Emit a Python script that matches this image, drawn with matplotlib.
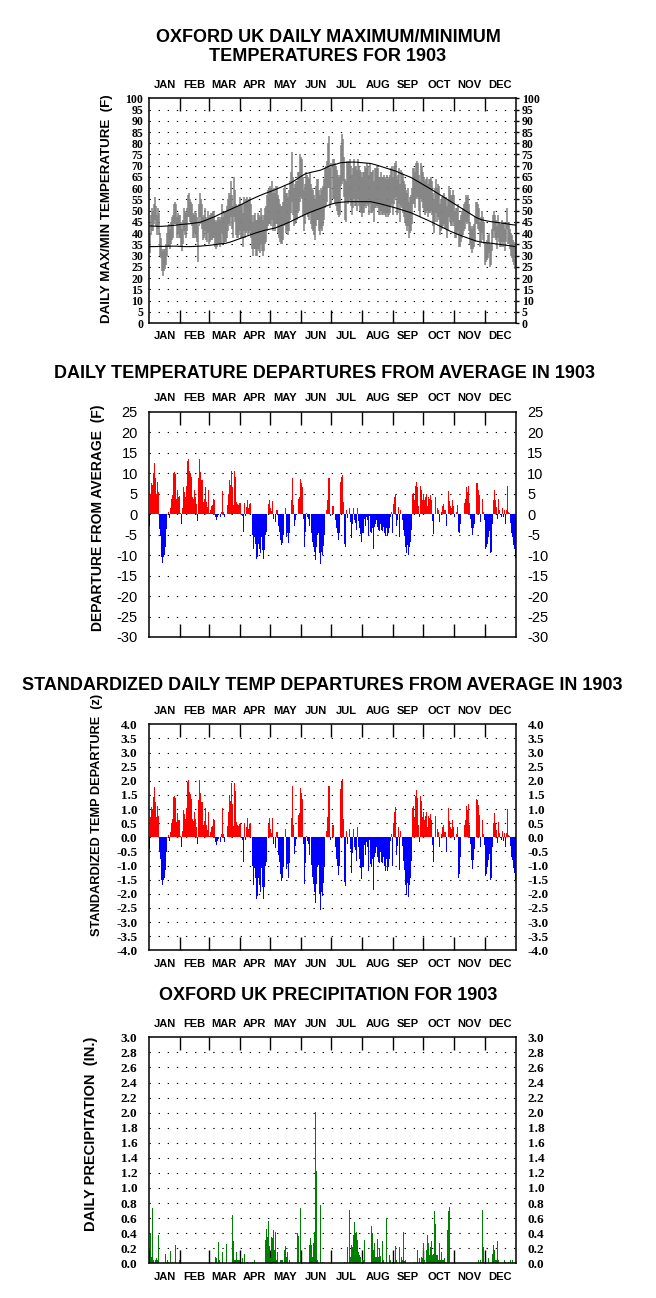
import numpy as np
import matplotlib
matplotlib.use('Agg')
import matplotlib.pyplot as plt

plt.rcParams['font.family'] = ['Liberation Sans', 'DejaVu Sans']

# --------------------------------------------------
# Data (Oxford UK, 1903), one value per day
# --------------------------------------------------
months = ['JAN', 'FEB', 'MAR', 'APR', 'MAY', 'JUN',
          'JUL', 'AUG', 'SEP', 'OCT', 'NOV', 'DEC']
month_len = [31, 28, 31, 30, 31, 30, 31, 31, 30, 31, 30, 31]

tmax = [
    40, 48, 51, 50, 53, 56, 52, 48, 51, 49, 40, 38, 33, 32, 33, 33, 35, 40, 43, 44, 42, 45, 47, 48, 53, 54, 53, 47, 49, 48, 48,
    45, 42, 46, 51, 50, 49, 51, 57, 58, 55, 54, 53, 49, 48, 50, 49, 47, 43, 53, 58, 55, 53, 47, 48, 51, 47, 46, 50,
    47, 48, 49, 49, 50, 50, 46, 45, 46, 47, 47, 46, 47, 53, 47, 49, 50, 50, 52, 55, 58, 57, 63, 57, 52, 65, 59, 53, 52, 52, 53,
    56, 53, 53, 49, 56, 53, 55, 56, 54, 55, 56, 53, 48, 45, 48, 49, 46, 46, 49, 48, 47, 51, 48, 46, 48, 51, 52, 57, 59, 60,
    61, 60, 63, 58, 60, 58, 61, 61, 57, 55, 53, 52, 52, 54, 60, 61, 58, 58, 56, 59, 63, 67, 76, 65, 60, 62, 63, 63, 67, 67, 75,
    74, 73, 65, 59, 62, 67, 66, 65, 64, 67, 62, 60, 59, 57, 55, 61, 64, 64, 59, 57, 60, 59, 61, 64, 69, 70, 72, 80, 83, 69,
    71, 73, 73, 71, 70, 68, 66, 65, 66, 79, 84, 82, 74, 64, 63, 72, 71, 72, 73, 70, 66, 69, 73, 70, 70, 68, 73, 70, 68, 67, 65,
    67, 67, 70, 69, 71, 70, 66, 71, 67, 67, 68, 63, 69, 69, 70, 69, 65, 65, 67, 65, 65, 66, 65, 64, 66, 64, 65, 66, 69, 70, 65,
    70, 71, 72, 64, 66, 69, 62, 68, 67, 66, 63, 62, 59, 58, 60, 54, 56, 57, 60, 69, 69, 67, 71, 72, 71, 66, 63, 71, 70, 67,
    65, 63, 64, 65, 62, 64, 64, 65, 63, 58, 55, 60, 64, 60, 62, 61, 53, 55, 56, 57, 58, 56, 56, 52, 55, 61, 59, 57, 57, 59, 57,
    50, 51, 51, 53, 46, 46, 48, 50, 51, 53, 54, 57, 56, 57, 53, 45, 43, 42, 43, 44, 47, 54, 54, 53, 51, 45, 47, 50, 47, 45,
    36, 36, 37, 39, 40, 35, 35, 42, 48, 50, 48, 46, 43, 48, 45, 44, 44, 46, 44, 45, 42, 45, 51, 45, 45, 42, 40, 39, 37, 36, 34,
]
tmin = [
    31, 39, 41, 41, 44, 46, 43, 39, 42, 39, 30, 29, 23, 21, 23, 24, 26, 30, 34, 34, 33, 35, 37, 38, 44, 44, 44, 38, 40, 38, 38,
    34, 32, 35, 41, 39, 38, 41, 47, 47, 45, 44, 43, 38, 38, 40, 38, 36, 27, 43, 47, 44, 42, 37, 38, 41, 37, 36, 40,
    35, 36, 37, 37, 38, 38, 34, 33, 34, 35, 35, 34, 35, 40, 35, 35, 36, 36, 38, 41, 44, 43, 47, 42, 38, 47, 45, 39, 38, 38, 39,
    41, 38, 38, 34, 41, 38, 40, 41, 39, 40, 41, 38, 33, 30, 33, 33, 30, 30, 33, 32, 31, 35, 32, 30, 32, 35, 36, 41, 43, 44,
    44, 43, 46, 41, 43, 41, 44, 44, 40, 38, 36, 35, 35, 37, 43, 44, 40, 41, 39, 41, 46, 49, 54, 48, 43, 44, 45, 46, 49, 50, 54,
    56, 55, 47, 41, 44, 49, 48, 47, 46, 49, 44, 42, 41, 39, 37, 43, 46, 46, 41, 39, 42, 41, 43, 46, 51, 52, 54, 60, 60, 51,
    53, 55, 55, 53, 52, 50, 48, 47, 48, 61, 62, 63, 56, 46, 45, 54, 53, 54, 55, 52, 48, 51, 55, 52, 52, 50, 55, 52, 50, 49, 47,
    49, 49, 52, 51, 53, 52, 48, 53, 49, 49, 50, 45, 51, 51, 52, 51, 48, 48, 50, 48, 48, 49, 48, 47, 49, 47, 48, 49, 52, 53, 48,
    53, 55, 56, 48, 49, 53, 45, 52, 51, 49, 47, 45, 43, 41, 43, 38, 40, 41, 44, 53, 53, 51, 55, 56, 55, 50, 47, 55, 54, 51,
    50, 48, 49, 50, 47, 49, 49, 50, 48, 43, 40, 45, 49, 45, 47, 46, 39, 41, 42, 43, 44, 42, 42, 38, 41, 47, 45, 43, 43, 45, 43,
    38, 38, 39, 41, 34, 34, 36, 38, 39, 41, 42, 45, 44, 45, 41, 35, 33, 31, 33, 34, 36, 44, 44, 42, 41, 34, 36, 40, 37, 35,
    26, 27, 28, 29, 31, 25, 26, 32, 38, 41, 38, 37, 33, 38, 36, 34, 34, 36, 34, 36, 32, 36, 42, 35, 35, 33, 30, 29, 27, 26, 24,
]

# normal max / min, sampled every 5 days (day 1, 6, ..., 361, 365)
norm_days = list(range(1, 366, 5)) + [365]
norm_max = [
    43.2, 43.1, 43.0, 43.1, 43.3, 43.5, 43.8, 44.0, 44.2, 44.5, 44.8, 45.6, 46.5, 47.4, 48.5,
    49.5, 50.5, 51.5, 52.5, 53.6, 54.8, 55.8, 56.8, 57.7, 58.5, 59.4, 60.3, 61.3, 62.2, 63.6,
    65.1, 66.4, 67.0, 67.5, 68.0, 69.0, 70.1, 70.6, 71.3, 71.5, 71.6, 71.6, 71.4, 71.2, 71.0,
    70.4, 69.7, 69.0, 68.3, 67.6, 66.6, 65.7, 64.8, 63.5, 62.2, 60.9, 59.6, 58.2, 56.8, 55.4,
    54.0, 52.6, 51.2, 49.8, 48.4, 47.0, 46.0, 45.5, 45.1, 44.8, 44.5, 44.2, 43.8, 43.6,
]
norm_min = [
    34.0, 34.0, 34.1, 34.1, 34.2, 34.2, 34.1, 34.0, 34.0, 34.1, 34.2, 34.4, 34.6, 34.9, 35.2,
    35.4, 36.0, 36.8, 37.6, 38.4, 39.2, 40.0, 40.7, 41.3, 41.8, 42.3, 43.2, 44.1, 45.1, 46.2,
    47.3, 48.4, 49.3, 50.2, 51.0, 51.9, 52.8, 53.4, 53.7, 53.9, 54.0, 54.0, 54.0, 54.0, 54.0,
    53.5, 53.0, 52.4, 51.8, 51.2, 50.5, 49.8, 49.1, 48.1, 47.1, 46.1, 45.1, 44.0, 42.9, 41.8,
    40.7, 39.8, 38.9, 38.1, 37.3, 36.5, 36.0, 35.7, 35.5, 35.2, 34.9, 34.6, 34.3, 34.0,
]

# daily mean temperature departure (F)
dep = [
    -3.0, 5.0, 7.5, 7.0, 10.0, 12.4, 8.7, 5.0, 7.8, 5.3, -3.6, -5.3, -10.5, -11.9, -10.5, -10.0, -8.1, -3.7, 0.0, 0.5, -1.0, 1.4, 3.6, 4.6, 10.0, 10.2, 9.7, 3.8, 6.0, 4.2, 4.4,
    0.3, -2.3, 1.4, 6.5, 5.4, 4.2, 6.8, 13.0, 13.4, 10.5, 10.0, 9.0, 4.2, 3.8, 5.9, 4.2, 2.4, -1.6, 8.8, 13.4, 10.3, 8.3, 3.0, 3.8, 6.7, 3.0, 1.8, 5.9,
    0.2, 1.0, 2.0, 2.2, 3.6, 3.4, -0.8, -1.5, -0.7, -0.3, 0.0, -0.8, 0.6, 5.7, 0.6, -0.8, 0.0, 0.0, 2.2, 5.0, 8.3, 7.0, 10.6, 6.5, 2.2, 10.6, 9.1, 3.0, 2.4, 2.2, 2.6,
    2.6, 0.0, -0.5, -4.3, 2.6, -0.5, 1.8, 3.4, 1.4, 2.4, 2.6, 0.0, -5.0, -8.4, -5.5, -7.2, -11.0, -10.4, -7.2, -8.4, -9.6, -5.5, -8.8, -11.0, -8.8, -5.1, -4.3, 0.0, 2.4, 3.4,
    1.4, 0.8, 3.3, -1.2, 0.0, -1.9, 1.0, 1.0, -3.0, -4.3, -6.3, -7.5, -7.1, -5.1, 0.0, 1.5, -5.5, -4.7, -7.0, -4.5, 0.0, 3.4, 8.9, 2.2, -2.9, -1.5, -0.3, 0.0, 3.8, 4.2, 8.5,
    7.5, 6.5, -1.1, -8.0, -4.3, 0.2, -0.6, -1.1, -3.0, 0.0, -4.7, -6.8, -8.0, -9.2, -11.2, -8.0, -5.1, -4.7, -9.6, -12.3, -9.2, -10.0, -7.7, -5.1, 0.0, 1.0, 3.4, 8.8, 8.8, -0.5,
    0.0, 2.0, 2.0, 0.0, -1.5, -3.5, -4.7, -6.2, -4.7, 7.9, 9.0, 9.5, 3.0, -7.2, -8.0, 1.0, -1.0, 0.0, 1.4, -1.9, -5.9, -2.5, 1.4, -1.5, -2.1, -3.9, 1.6, -1.6, -3.5, -4.9, -6.7,
    -4.7, -4.7, -1.3, -2.9, -0.8, -1.5, -5.4, -0.5, -4.3, -4.7, -3.5, -8.4, -3.1, -2.5, -1.5, -3.1, -3.9, -4.1, -2.4, -3.9, -4.1, -3.1, -4.6, -5.4, -3.5, -5.4, -4.7, -3.5, -0.6, 0.6, -4.6,
    2.4, 4.2, 5.0, -2.9, -1.5, 1.8, -5.5, 1.0, 0.0, -1.5, -3.9, -5.4, -8.0, -9.6, -7.5, -10.0, -8.0, -6.7, -3.9, 4.9, 5.2, 3.4, 6.8, 7.8, 6.5, 2.0, -0.8, 6.8, 6.0, 3.4,
    5.0, 3.4, 4.2, 5.0, 2.0, 4.2, 3.8, 4.6, 3.4, -1.6, -4.9, 0.0, 4.2, 0.0, 1.6, 1.0, -1.9, 0.0, 0.6, 2.0, 2.4, 1.1, 1.0, -2.9, 0.0, 5.7, 3.3, 2.0, 1.6, 3.4, 2.0,
    -0.6, 0.0, 0.6, 2.2, -4.3, -4.7, -2.3, 0.0, 0.0, 2.6, 3.6, 6.5, 5.5, 6.8, 2.6, -1.3, -3.5, -5.1, -3.5, -2.5, 0.0, 7.5, 7.6, 5.9, 4.6, -1.9, 0.0, 3.6, 0.6, -1.5,
    -8.4, -8.0, -7.2, -5.5, -4.1, -9.6, -9.2, -2.3, 3.4, 5.9, 3.4, 1.8, -1.3, 3.6, 1.0, -0.3, -0.6, 1.6, -0.8, 1.0, -2.3, 1.1, 6.8, 0.6, 0.3, -2.1, -4.7, -5.5, -7.5, -8.6, -10.8,
]

# standardized departure (z)
zdep = [
    -0.43, 0.71, 1.07, 1.00, 1.43, 1.77, 1.24, 0.71, 1.11, 0.76, -0.51, -0.76, -1.50, -1.70, -1.50, -1.43, -1.16, -0.53, 0.00, 0.07, -0.14, 0.20, 0.51, 0.66, 1.43, 1.46, 1.39, 0.54, 0.86, 0.60, 0.63,
    0.05, -0.35, 0.21, 0.98, 0.82, 0.64, 1.03, 1.97, 2.03, 1.59, 1.52, 1.36, 0.64, 0.58, 0.89, 0.64, 0.36, -0.24, 1.33, 2.03, 1.56, 1.26, 0.45, 0.58, 1.02, 0.45, 0.27, 0.89,
    0.04, 0.18, 0.36, 0.40, 0.65, 0.62, -0.15, -0.27, -0.13, -0.05, 0.00, -0.15, 0.11, 1.04, 0.11, -0.15, 0.00, 0.00, 0.40, 0.91, 1.51, 1.27, 1.93, 1.18, 0.40, 1.93, 1.65, 0.55, 0.44, 0.40, 0.47,
    0.52, 0.00, -0.10, -0.86, 0.52, -0.10, 0.36, 0.68, 0.28, 0.48, 0.52, 0.00, -1.00, -1.68, -1.10, -1.44, -2.20, -2.08, -1.44, -1.68, -1.92, -1.10, -1.76, -2.20, -1.76, -1.02, -0.86, 0.00, 0.48, 0.68,
    0.29, 0.16, 0.67, -0.24, 0.00, -0.39, 0.20, 0.20, -0.61, -0.88, -1.29, -1.53, -1.45, -1.04, 0.00, 0.31, -1.12, -0.96, -1.43, -0.92, 0.00, 0.69, 1.82, 0.45, -0.59, -0.31, -0.06, 0.00, 0.78, 0.86, 1.73,
    1.56, 1.35, -0.23, -1.67, -0.90, 0.04, -0.13, -0.23, -0.63, 0.00, -0.98, -1.42, -1.67, -1.92, -2.33, -1.67, -1.06, -0.98, -2.00, -2.56, -1.92, -2.08, -1.60, -1.06, 0.00, 0.21, 0.71, 1.83, 1.83, -0.10,
    0.00, 0.43, 0.43, 0.00, -0.33, -0.76, -1.02, -1.35, -1.02, 1.72, 1.96, 2.07, 0.65, -1.57, -1.74, 0.22, -0.22, 0.00, 0.30, -0.41, -1.28, -0.54, 0.30, -0.33, -0.46, -0.85, 0.35, -0.35, -0.76, -1.07, -1.46,
    -1.04, -1.04, -0.29, -0.64, -0.18, -0.33, -1.20, -0.11, -0.96, -1.04, -0.78, -1.87, -0.69, -0.56, -0.33, -0.69, -0.87, -0.91, -0.53, -0.87, -0.91, -0.69, -1.02, -1.20, -0.78, -1.20, -1.04, -0.78, -0.13, 0.13, -1.02,
    0.51, 0.89, 1.06, -0.62, -0.32, 0.38, -1.17, 0.21, 0.00, -0.32, -0.83, -1.15, -1.70, -2.04, -1.60, -2.13, -1.70, -1.43, -0.83, 1.04, 1.11, 0.72, 1.45, 1.66, 1.38, 0.43, -0.17, 1.45, 1.28, 0.72,
    0.89, 0.61, 0.75, 0.89, 0.36, 0.75, 0.68, 0.82, 0.61, -0.29, -0.88, 0.00, 0.75, 0.00, 0.29, 0.18, -0.34, 0.00, 0.11, 0.36, 0.43, 0.20, 0.18, -0.52, 0.00, 1.02, 0.59, 0.36, 0.29, 0.61, 0.36,
    -0.10, 0.00, 0.10, 0.38, -1.45, -1.30, -0.70, 0.00, 0.00, 0.45, 0.62, 1.12, 0.95, 1.17, 0.45, -0.22, -0.80, -1.12, -0.80, -0.43, 0.00, 1.36, 1.31, 1.14, 0.79, -0.33, 0.00, 0.62, 0.10, -0.26,
    -1.36, -1.30, -1.06, -0.81, -0.60, -1.51, -1.45, -0.34, 0.50, 0.87, 0.50, 0.26, -0.19, 0.53, 0.15, -0.04, -0.09, 0.24, -0.12, 0.15, -0.34, 0.16, 1.00, 0.09, 0.04, -0.31, -0.69, -0.81, -1.10, -1.26, -1.50,
]

# daily precipitation (in.)
precip = [
    0.17, 0.40, 0.09, 0.73, 0.04, 0, 0.04, 0.07, 0.04, 0.38, 0, 0, 0, 0, 0, 0, 0.13, 0, 0.04, 0.02, 0, 0.16, 0, 0.02, 0, 0, 0.24, 0, 0, 0, 0.04,
    0, 0, 0, 0, 0, 0, 0, 0, 0, 0, 0, 0, 0, 0, 0.01, 0, 0, 0, 0, 0, 0, 0.07, 0.09, 0.15, 0.27, 0.08, 0, 0,
    0, 0.46, 0.33, 0, 0.18, 0.04, 0.09, 0.07, 0, 0.28, 0.04, 0, 0, 0.15, 0, 0, 0, 0.25, 0, 0, 0, 0, 0, 0.64, 0.30, 0.04, 0.04, 0.15, 0.04, 0.04, 0.04,
    0, 0, 0.07, 0, 0.12, 0, 0, 0.02, 0, 0, 0, 0, 0.02, 0, 0.04, 0, 0, 0, 0, 0, 0, 0, 0, 0, 0, 0.31, 0.45, 0.35, 0.56, 0.23,
    0.07, 0.35, 0.33, 0.44, 0.18, 0.42, 0.04, 0.15, 0, 0, 0.05, 0.04, 0.04, 0, 0.18, 0.23, 0.09, 0.15, 0, 0.04, 0, 0, 0, 0, 0, 0, 0, 0.40, 0.36, 0, 0.73,
    0, 0, 0, 0, 0, 0, 0, 0, 0.24, 0.33, 0.24, 0.09, 0.27, 0.41, 2.01, 1.23, 0.04, 0, 0, 0.77, 0, 0.02, 0, 0, 0, 0, 0, 0, 0, 0,
    0, 0, 0, 0, 0, 0, 0, 0, 0, 0, 0, 0, 0, 0.02, 0, 0, 0.22, 0, 0.71, 0.09, 0.24, 0.22, 0.38, 0.55, 0.40, 0.42, 0.31, 0.15, 0.11, 0.09, 0,
    0.04, 0.04, 0.31, 0, 0, 0, 0, 0, 0, 0.49, 0.40, 0.18, 0.27, 0.09, 0.09, 0.32, 0.08, 0.20, 0.10, 0, 0.29, 0.05, 0, 0, 0.60, 0, 0, 0.11, 0.04, 0, 0.02,
    0, 0, 0.23, 0.04, 0, 0, 0.22, 0, 0.09, 0.04, 0.42, 0.03, 0.04, 0, 0, 0, 0, 0, 0, 0, 0, 0.02, 0, 0, 0.18, 0, 0.07, 0, 0.09, 0.07,
    0.27, 0.04, 0, 0.18, 0.38, 0.27, 0.11, 0.22, 0.29, 0.11, 0.12, 0.69, 0.52, 0.11, 0.11, 0.04, 0.27, 0.04, 0.15, 0.04, 0.04, 0.07, 0.02, 0, 0.44, 0.69, 0.75, 0.38, 0.15, 0.04, 0,
    0.04, 0.27, 0.04, 0, 0, 0, 0, 0, 0, 0.02, 0, 0, 0, 0.12, 0.02, 0, 0, 0.07, 0, 0.02, 0, 0, 0, 0.04, 0, 0.04, 0, 0.71, 0.22, 0,
    0, 0, 0, 0.07, 0, 0, 0, 0.13, 0.24, 0.18, 0.04, 0.04, 0.29, 0.04, 0, 0, 0, 0, 0, 0.04, 0.02, 0, 0, 0.02, 0, 0.04, 0, 0.04, 0, 0, 0,
]

for name, arr in [('tmax', tmax), ('tmin', tmin), ('dep', dep), ('zdep', zdep), ('precip', precip)]:
    assert len(arr) == 365, (name, len(arr))

days = np.arange(1, 366)
bounds = np.cumsum(month_len)[:-1] + 0.5
mids = np.cumsum([0] + month_len[:-1]) + np.array(month_len) / 2 + 0.5

# --------------------------------------------------
# Layout helpers (pixel positions of the reference)
# --------------------------------------------------
W_PX, H_PX = 656, 1298
X0, X1 = 149.3, 515.7


def add_panel(top, bottom):
    return fig.add_axes([X0 / W_PX, 1 - bottom / H_PX,
                         (X1 - X0) / W_PX, (bottom - top) / H_PX])


def ftext(x, y, s, **kw):
    fig.text(x / W_PX, 1 - y / H_PX, s, ha='center', va='center', **kw)


def style(ax, ymin, ymax, step, fmt, tfont, pad, rtick, bottom_labels):
    ax.set_xlim(0.5, 365.5)
    ax.set_ylim(ymin, ymax)
    ticks = np.round(np.arange(ymin, ymax + step / 2, step), 2)
    ax.set_yticks(ticks)
    ax.set_yticklabels([fmt.format(t) for t in ticks], **tfont)
    ax.tick_params(axis='y', which='major', left=True, right=True,
                   labelleft=True, labelright=True, direction='out',
                   length=2.3 if rtick else 0, width=1, pad=pad)
    for t in ax.yaxis.get_major_ticks():
        t.tick1line.set_visible(False)
        t.tick2line.set_visible(rtick)
    # horizontal dotted grid at interior ticks
    for t in ticks[1:-1]:
        ax.axhline(t, color='black', lw=0.8, ls=(0, (1.2, 7)), zorder=0)
    # month boundaries: long inward ticks at top and bottom
    ax.set_xticks(bounds, minor=True)
    ax.tick_params(axis='x', which='minor', direction='in', length=9.5,
                   width=1, top=True, bottom=True)
    ax.set_xticks(mids)
    ax.set_xticklabels(months, fontsize=8, fontweight='bold')
    ax.tick_params(axis='x', which='major', length=0, top=True,
                   labeltop=True, bottom=True, labelbottom=bottom_labels, pad=6)
    for s in ax.spines.values():
        s.set_linewidth(1.1)


fig = plt.figure(figsize=(6.56, 12.98), dpi=100)

serif_small = dict(family='Liberation Serif', fontweight='bold', fontsize=8.5)
serif_mid = dict(family='Liberation Serif', fontweight='bold', fontsize=9.5)
sans_reg = dict(family='Liberation Sans', fontsize=10.5)

# --------------------------------------------------
# Panel 1: daily max / min
# --------------------------------------------------
ax1 = add_panel(98.3, 323.0)
ax1.vlines(days, tmin, tmax, color='#808080', lw=1.1, zorder=2)
ax1.plot(norm_days, norm_max, color='black', lw=0.8, zorder=3)
ax1.plot(norm_days, norm_min, color='black', lw=0.8, zorder=3)
style(ax1, 0, 100, 5, '{:g}', serif_small, 2.0, True, True)
ftext(328, 47, 'OXFORD UK DAILY MAXIMUM/MINIMUM\nTEMPERATURES FOR 1903',
      fontsize=13, fontweight='bold', linespacing=1.1)
ftext(107, 209, 'DAILY MAX/MIN TEMPERATURE  (F)', rotation=90,
      fontsize=9.6, fontweight='bold')

# --------------------------------------------------
# Panel 2: departures (F)
# --------------------------------------------------
ax2 = add_panel(411.7, 637.0)
dep_arr = np.array(dep)
ax2.bar(days, dep_arr, width=1.0, color=np.where(dep_arr >= 0, '#FF0000', '#0000FF'),
        edgecolor='none', lw=0, zorder=2)
style(ax2, -30, 25, 5, '{:g}', sans_reg, 8.3, False, False)
ftext(325, 373, 'DAILY TEMPERATURE DEPARTURES FROM AVERAGE IN 1903',
      fontsize=13, fontweight='bold')
ftext(98, 518, 'DEPARTURE FROM AVERAGE  (F)', rotation=90,
      fontsize=10, fontweight='bold')

# --------------------------------------------------
# Panel 3: standardized departures (z)
# --------------------------------------------------
ax3 = add_panel(724.3, 950.3)
z_arr = np.array(zdep)
ax3.bar(days, z_arr, width=1.0, color=np.where(z_arr >= 0, '#FF0000', '#0000FF'),
        edgecolor='none', lw=0, zorder=2)
style(ax3, -4, 4, 0.5, '{:.1f}', serif_mid, 8.5, False, True)
ftext(322, 686, 'STANDARDIZED DAILY TEMP DEPARTURES FROM AVERAGE IN 1903',
      fontsize=13, fontweight='bold')
ftext(97, 815, 'STANDARDIZED TEMP DEPARTURE  (z)', rotation=90,
      fontsize=9.2, fontweight='bold')

# --------------------------------------------------
# Panel 4: precipitation
# --------------------------------------------------
ax4 = add_panel(1037.3, 1263.3)
ax4.bar(days, precip, width=0.9, color='#008000', edgecolor='none', lw=0, zorder=2)
style(ax4, 0, 3.0, 0.2, '{:.1f}', serif_mid, 8.5, False, True)
ftext(328, 995, 'OXFORD UK PRECIPITATION FOR 1903',
      fontsize=13, fontweight='bold')
ftext(91, 1134, 'DAILY PRECIPITATION  (IN.)', rotation=90,
      fontsize=10.5, fontweight='bold')

fig.savefig('out.png', dpi=100)
